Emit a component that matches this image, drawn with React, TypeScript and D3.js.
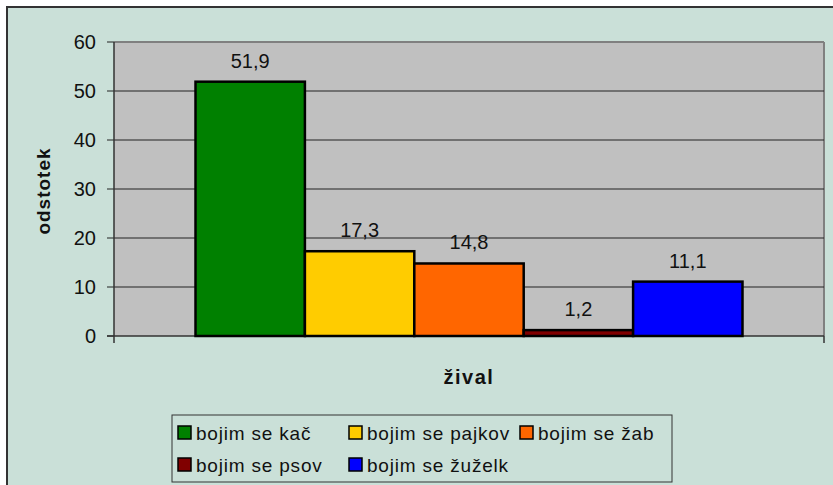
import React from 'react';
import * as d3 from 'd3';

// fear of animals survey, percent of answers
const series = ["bojim se kač", "bojim se pajkov", "bojim se žab", "bojim se psov", "bojim se žuželk"];
const values = [51.9, 17.3, 14.8, 1.2, 11.1];
const colors = ["#008000", "#ffcc00", "#ff6600", "#800000", "#0000ff"];
const yTicks = [0, 10, 20, 30, 40, 50, 60];

const W = 833;
const H = 485;
const plot = { left: 114, top: 42, right: 824, bottom: 336 };
const font = "'Liberation Sans', Arial, sans-serif";

const App = () => {
  // y scale for the percentages
  const y = d3.scaleLinear().domain([0, 60]).range([plot.bottom, plot.top]);
  // one category, five series side by side -> outer band for the gap
  const x = d3.scaleBand()
    .domain(series)
    .range([plot.left, plot.right])
    .paddingInner(0)
    .paddingOuter(0.745);
  const fmt = (v: number) => String(v).replace('.', ',');

  return (
    <div style={{ position: 'absolute', left: 0, top: 0 }}>
      <svg width={W} height={H} style={{ display: 'block', fontFamily: font }}>
        <rect x={0} y={0} width={W} height={H} fill="#ffffff" />
        <rect x={7} y={7} width={W + 10} height={H + 10} fill="#cae0d8" stroke="#333" strokeWidth={2} />

        {/* plot area */}
        <rect x={plot.left} y={plot.top} width={plot.right - plot.left} height={plot.bottom - plot.top} fill="#c0c0c0" />
        <line x1={plot.left} x2={plot.right} y1={plot.top} y2={plot.top} stroke="#808080" strokeWidth={2} />
        <line x1={plot.right} x2={plot.right} y1={plot.top} y2={plot.bottom} stroke="#808080" strokeWidth={2} />

        {/* grid + y ticks */}
        {yTicks.map(t => (
          <g key={t}>
            {t > 0 && t < 60 && (
              <line x1={plot.left} x2={plot.right} y1={y(t)} y2={y(t)} stroke="#222" strokeWidth={1} />
            )}
            <line x1={plot.left - 7} x2={plot.left} y1={y(t)} y2={y(t)} stroke="#222" strokeWidth={1} />
            <text x={plot.left - 18} y={y(t)} dy="0.36em" textAnchor="end" fontSize={20} fill="#111">{t}</text>
          </g>
        ))}
        <line x1={plot.left} x2={plot.left} y1={plot.top} y2={plot.bottom + 7} stroke="#333" strokeWidth={1.5} />
        <line x1={plot.left - 7} x2={plot.right} y1={plot.bottom} y2={plot.bottom} stroke="#333" strokeWidth={1.5} />
        <line x1={plot.right} x2={plot.right} y1={plot.bottom} y2={plot.bottom + 7} stroke="#333" strokeWidth={1.5} />

        {/* bars */}
        {series.map((s, i) => (
          <g key={s}>
            <rect
              x={x(s)}
              y={y(values[i])}
              width={x.bandwidth()}
              height={plot.bottom - y(values[i])}
              fill={colors[i]}
              stroke="#000"
              strokeWidth={2.5}
            />
            <text
              x={(x(s) as number) + x.bandwidth() / 2}
              y={y(values[i]) - 14}
              textAnchor="middle"
              fontSize={20}
              fill="#111"
            >{fmt(values[i])}</text>
          </g>
        ))}

        {/* axis titles */}
        <text
          transform={`translate(50, ${(plot.top + plot.bottom) / 2 + 2}) rotate(-90)`}
          textAnchor="middle"
          fontSize={19}
          fontWeight="bold"
          letterSpacing={1}
          fill="#111"
        >odstotek</text>
        <text x={469} y={384} textAnchor="middle" fontSize={20} fontWeight="bold" letterSpacing={1.5} fill="#111">žival</text>

        {/* legend */}
        <rect x={172} y={415} width={500} height={67} fill="none" stroke="#333" strokeWidth={1} />
        {series.map((s, i) => {
          const col = i % 3;
          const row = Math.floor(i / 3);
          const lx = 178 + col * 171;
          const ly = 433 + row * 32;
          return (
            <g key={s}>
              <rect x={lx} y={ly - 7} width={13} height={13} fill={colors[i]} stroke="#000" strokeWidth={1.5} />
              <text x={lx + 18} y={ly} dy="0.36em" fontSize={19} letterSpacing={0.8} fill="#111">{s}</text>
            </g>
          );
        })}
      </svg>
    </div>
  );
};

export default App;
